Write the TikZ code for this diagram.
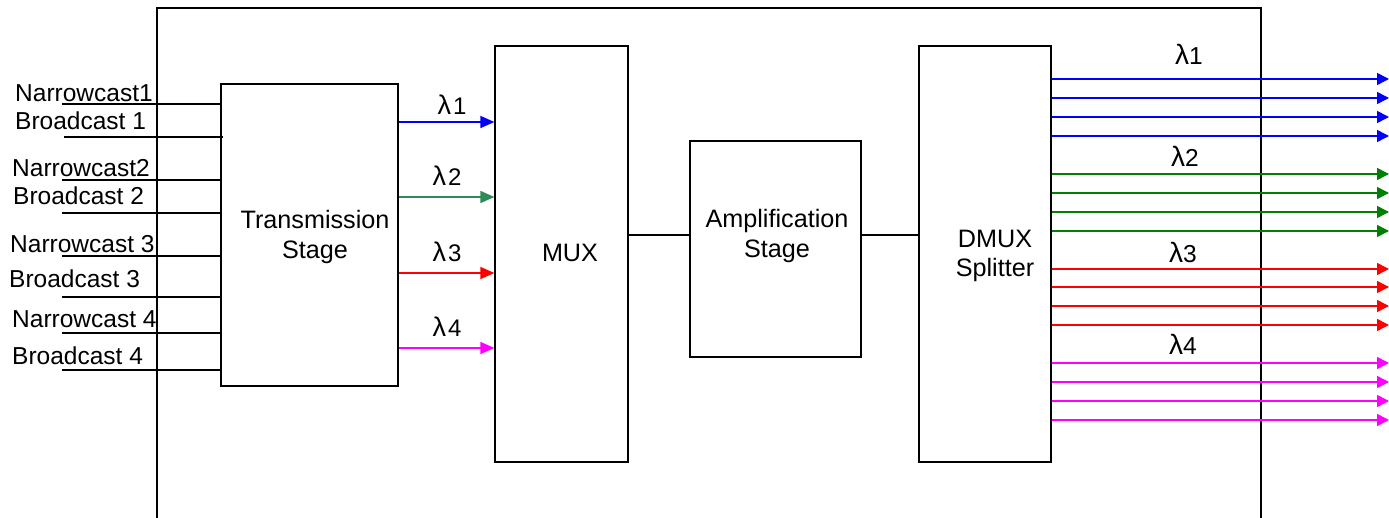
\documentclass[tikz,border=0pt]{standalone}
\usepackage{fontspec}
\setmainfont{Liberation Sans}
\usetikzlibrary{arrows.meta}
\definecolor{cblue}{RGB}{0,0,255}
\definecolor{cseagreen}{RGB}{46,139,87}
\definecolor{cgreen}{RGB}{0,128,0}
\definecolor{cred}{RGB}{255,0,0}
\definecolor{cmag}{RGB}{255,0,255}
\newcommand{\lamL}[1]{{\fontsize{27}{30}\selectfont λ}\kern2pt{\fontsize{24}{28}\selectfont #1}}
\newcommand{\lamR}[1]{{\fontsize{28}{32}\selectfont λ}{\fontsize{24.5}{29}\selectfont #1}}
\begin{document}
\begin{tikzpicture}[x=1pt,y=-1pt,
  font=\fontsize{24.5}{29.5}\selectfont,
  blk/.style={draw, line width=1.2pt, inner sep=0pt},
  btxt/.style={inner sep=0pt, align=center, font=\fontsize{25.2}{29.5}\selectfont},
  wire/.style={line width=1.2pt},
  sigl/.style={line width=1.5pt, -{Triangle[length=14pt,width=12pt]}},
  sigr/.style={line width=1.5pt, -{Triangle[length=12pt,width=12pt]}},
  txt/.style={inner sep=0pt, anchor=base west},
  lam/.style={inner sep=0pt, anchor=base}]
\useasboundingbox (0,0) rectangle (1389,518);
\fill[white] (0,0) rectangle (1389,518);
% outer frame (open at bottom)
\coordinate (fbl) at (157,518);
\coordinate (ftl) at (157,8);
\coordinate (ftr) at (1261,8);
\coordinate (fbr) at (1261,518);
\draw[wire] (fbl) -- (ftl) -- (ftr) -- (fbr);
% blocks
\node[blk, minimum width=177pt, minimum height=302pt] (trans) at (309.5,235) {};
\node[btxt] (transt) at (315,237) {Transmission\\Stage};
\node[blk, minimum width=133pt, minimum height=416pt] (mux) at (561.5,254) {};
\node[btxt] (muxt) at (570,253) {MUX};
\node[blk, minimum width=171pt, minimum height=216pt] (amp) at (775.5,249) {};
\node[btxt] (ampt) at (777,236) {Amplification\\Stage};
\node[blk, minimum width=132pt, minimum height=416pt] (dmux) at (985,254) {};
\node[btxt] (dmuxt) at (995,256) {DMUX\\Splitter};
% inputs
\node[txt] (l1) at (15,102) {Narrowcast1};
\node[txt] (l2) at (15,130) {Broadcast 1};
\node[txt] (l3) at (12,177) {Narrowcast2};
\node[txt] (l4) at (13,205) {Broadcast 2};
\node[txt] (l5) at (10,253) {Narrowcast 3};
\node[txt] (l6) at (9,288) {Broadcast 3};
\node[txt] (l7) at (12,328) {Narrowcast 4};
\node[txt] (l8) at (12,365) {Broadcast 4};
\coordinate (in1) at (62,104);
\coordinate (in2) at (64,137);
\coordinate (in3) at (62,180);
\coordinate (in4) at (62,213);
\coordinate (in5) at (62,256);
\coordinate (in6) at (62,297);
\coordinate (in7) at (62,333);
\coordinate (in8) at (62,370);
\draw[wire] (in1) -- (trans.west |- in1);
\draw[wire] (in2) -- ([xshift=3pt]trans.west |- in2);
\foreach \i in {3,...,8} {\draw[wire] (in\i) -- (trans.west |- in\i);}
% lambda arrows to MUX
\coordinate (y1) at (0,122);
\coordinate (y2) at (0,197);
\coordinate (y3) at (0,273);
\coordinate (y4) at (0,348);
\draw[sigl, cblue] (trans.east |- y1) -- (mux.west |- y1);
\draw[sigl, cseagreen] (trans.east |- y2) -- (mux.west |- y2);
\draw[sigl, cred] (trans.east |- y3) -- (mux.west |- y3);
\draw[sigl, cmag] (trans.east |- y4) -- (mux.west |- y4);
\node[lam] (a1) at (452,115) {\lamL{1}};
\node[lam] (a2) at (447,186) {\lamL{2}};
\node[lam] (a3) at (447,262) {\lamL{3}};
\node[lam] (a4) at (447,337) {\lamL{4}};
% chain
\coordinate (ym) at (0,235);
\draw[wire] (mux.east |- ym) -- (amp.west |- ym);
\draw[wire] (amp.east |- ym) -- (dmux.west |- ym);
% outputs
\foreach \y [count=\k] in {79,98,117,136} {
  \coordinate (ob\k) at (1389,\y);
  \draw[sigr, cblue] (dmux.east |- ob\k) -- (ob\k);}
\foreach \y [count=\k] in {174,193,212,231} {
  \coordinate (og\k) at (1389,\y);
  \draw[sigr, cgreen] (dmux.east |- og\k) -- (og\k);}
\foreach \y [count=\k] in {269,287,306,325} {
  \coordinate (or\k) at (1389,\y);
  \draw[sigr, cred] (dmux.east |- or\k) -- (or\k);}
\foreach \y [count=\k] in {363,382,401,420} {
  \coordinate (om\k) at (1389,\y);
  \draw[sigr, cmag] (dmux.east |- om\k) -- (om\k);}
\node[lam] (b1) at (1189,65) {\lamR{1}};
\node[lam] (b2) at (1185,167) {\lamR{2}};
\node[lam] (b3) at (1183,263) {\lamR{3}};
\node[lam] (b4) at (1183,355) {\lamR{4}};
\end{tikzpicture}
\end{document}
